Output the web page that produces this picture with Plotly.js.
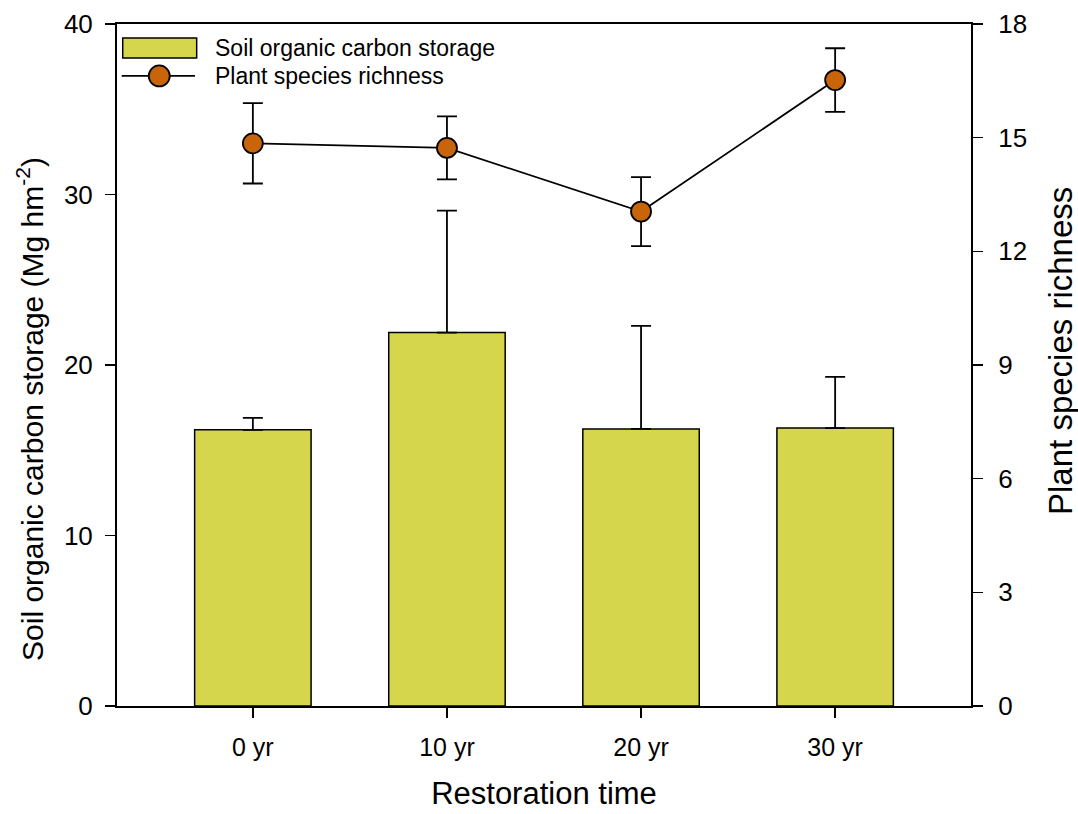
<!DOCTYPE html>
<html>
<head>
<meta charset="utf-8">
<script src="https://cdn.plot.ly/plotly-3.0.1.min.js"></script>
<style>html,body{margin:0;padding:0;background:#fff;}#chart{width:1078px;height:814px;}</style>
</head>
<body>
<div id="chart"></div>
<script>
const categories = ["0 yr", "10 yr", "20 yr", "30 yr"];
const carbonStorage = [16.2, 21.9, 16.25, 16.3];
const carbonStorageErr = [0.7, 7.15, 6.05, 3.0];
const speciesRichness = [14.85, 14.73, 13.05, 16.52];
const speciesRichnessErr = [1.06, 0.83, 0.91, 0.84];
const leftTicks = [0, 10, 20, 30, 40];
const rightTicks = [0, 3, 6, 9, 12, 15, 18];
const seriesNames = ["Soil organic carbon storage", "Plant species richness"];

const FONT = "Arial, 'Liberation Sans', sans-serif";
const BAR_COLOR = "#d6d64c";
const DOT_COLOR = "#c8640a";

const traces = [
  {
    type: "bar",
    name: seriesNames[0],
    x: categories,
    y: carbonStorage,
    width: 0.6,
    showlegend: false,
    marker: {color: BAR_COLOR, line: {color: "#000", width: 1.5}},
    error_y: {type: "data", symmetric: false, array: carbonStorageErr, arrayminus: carbonStorage.map(() => 0), color: "#000", thickness: 1.8, width: 10},
    yaxis: "y"
  },
  {
    type: "scatter",
    mode: "lines+markers",
    name: seriesNames[1],
    x: categories,
    y: speciesRichness,
    yaxis: "y2",
    showlegend: false,
    line: {color: "#000", width: 1.8},
    marker: {size: 20, color: DOT_COLOR, line: {color: "#000", width: 1.8}},
    error_y: {type: "data", array: speciesRichnessErr, color: "#000", thickness: 1.8, width: 10}
  }
];

// hand-built legend (wide sample symbols as in the reference)
const row1 = 0.9648, row2 = 0.9238;
const shapes = [
  {type: "rect", xref: "paper", yref: "paper", x0: 0.0067, x1: 0.0933, y0: 0.9501, y1: 0.9795,
   fillcolor: BAR_COLOR, line: {color: "#000", width: 1.5}},
  {type: "line", xref: "paper", yref: "paper", x0: 0.0055, x1: 0.0913, y0: row2, y1: row2,
   line: {color: "#000", width: 1.8}},
  {type: "circle", xref: "paper", yref: "paper", x0: 0.0495 - 0.0123, x1: 0.0495 + 0.0123, y0: row2 - 0.0154, y1: row2 + 0.0154,
   fillcolor: DOT_COLOR, line: {color: "#000", width: 1.8}}
];

const annotations = [
  {xref: "paper", yref: "paper", x: 0.1124, y: row1, xanchor: "left", yanchor: "middle", showarrow: false,
   text: seriesNames[0], font: {family: FONT, size: 23, color: "#000"}},
  {xref: "paper", yref: "paper", x: 0.1124, y: row2, xanchor: "left", yanchor: "middle", showarrow: false,
   text: seriesNames[1], font: {family: FONT, size: 23, color: "#000"}},
  {xref: "paper", yref: "paper", x: -0.1019, y: 0.4355, xanchor: "center", yanchor: "middle", showarrow: false, textangle: -90,
   text: "Soil organic carbon storage (Mg hm<sup>-2</sup>)", font: {family: FONT, size: 30, color: "#000"}},
  {xref: "paper", yref: "paper", x: 1.1042, y: 0.5205, xanchor: "center", yanchor: "middle", showarrow: false, textangle: -90,
   text: "Plant species richness", font: {family: FONT, size: 33, color: "#000"}}
];

const layout = {
  width: 1078,
  height: 814,
  margin: {l: 117, r: 107, t: 24, b: 108},
  paper_bgcolor: "#fff",
  plot_bgcolor: "#fff",
  font: {family: FONT, color: "#000", size: 22},
  showlegend: false,
  shapes: shapes,
  annotations: annotations,
  xaxis: {
    type: "category",
    range: [-0.7, 3.7],
    tickvals: categories,
    ticktext: categories,
    ticks: "outside", ticklen: 10, tickwidth: 1.5, tickcolor: "#000",
    ticklabelstandoff: 8,
    showline: true, linecolor: "#000", linewidth: 2, mirror: true,
    showgrid: false, zeroline: false,
    tickfont: {family: FONT, size: 25},
    title: {text: "Restoration time", font: {family: FONT, size: 31}, standoff: 22}
  },
  yaxis: {
    range: [0, 40],
    tickvals: leftTicks,
    ticks: "outside", ticklen: 10, tickwidth: 1.5, tickcolor: "#000",
    ticklabelstandoff: 7,
    showline: true, linecolor: "#000", linewidth: 2,
    showgrid: false, zeroline: false,
    tickfont: {family: FONT, size: 26}
  },
  yaxis2: {
    range: [0, 18],
    tickvals: rightTicks,
    overlaying: "y",
    side: "right",
    ticks: "outside", ticklen: 10, tickwidth: 1.5, tickcolor: "#000",
    ticklabelstandoff: 10,
    showline: true, linecolor: "#000", linewidth: 2,
    showgrid: false, zeroline: false,
    tickfont: {family: FONT, size: 26}
  }
};

Plotly.newPlot("chart", traces, layout, {displayModeBar: false, staticPlot: true});
</script>
</body>
</html>
